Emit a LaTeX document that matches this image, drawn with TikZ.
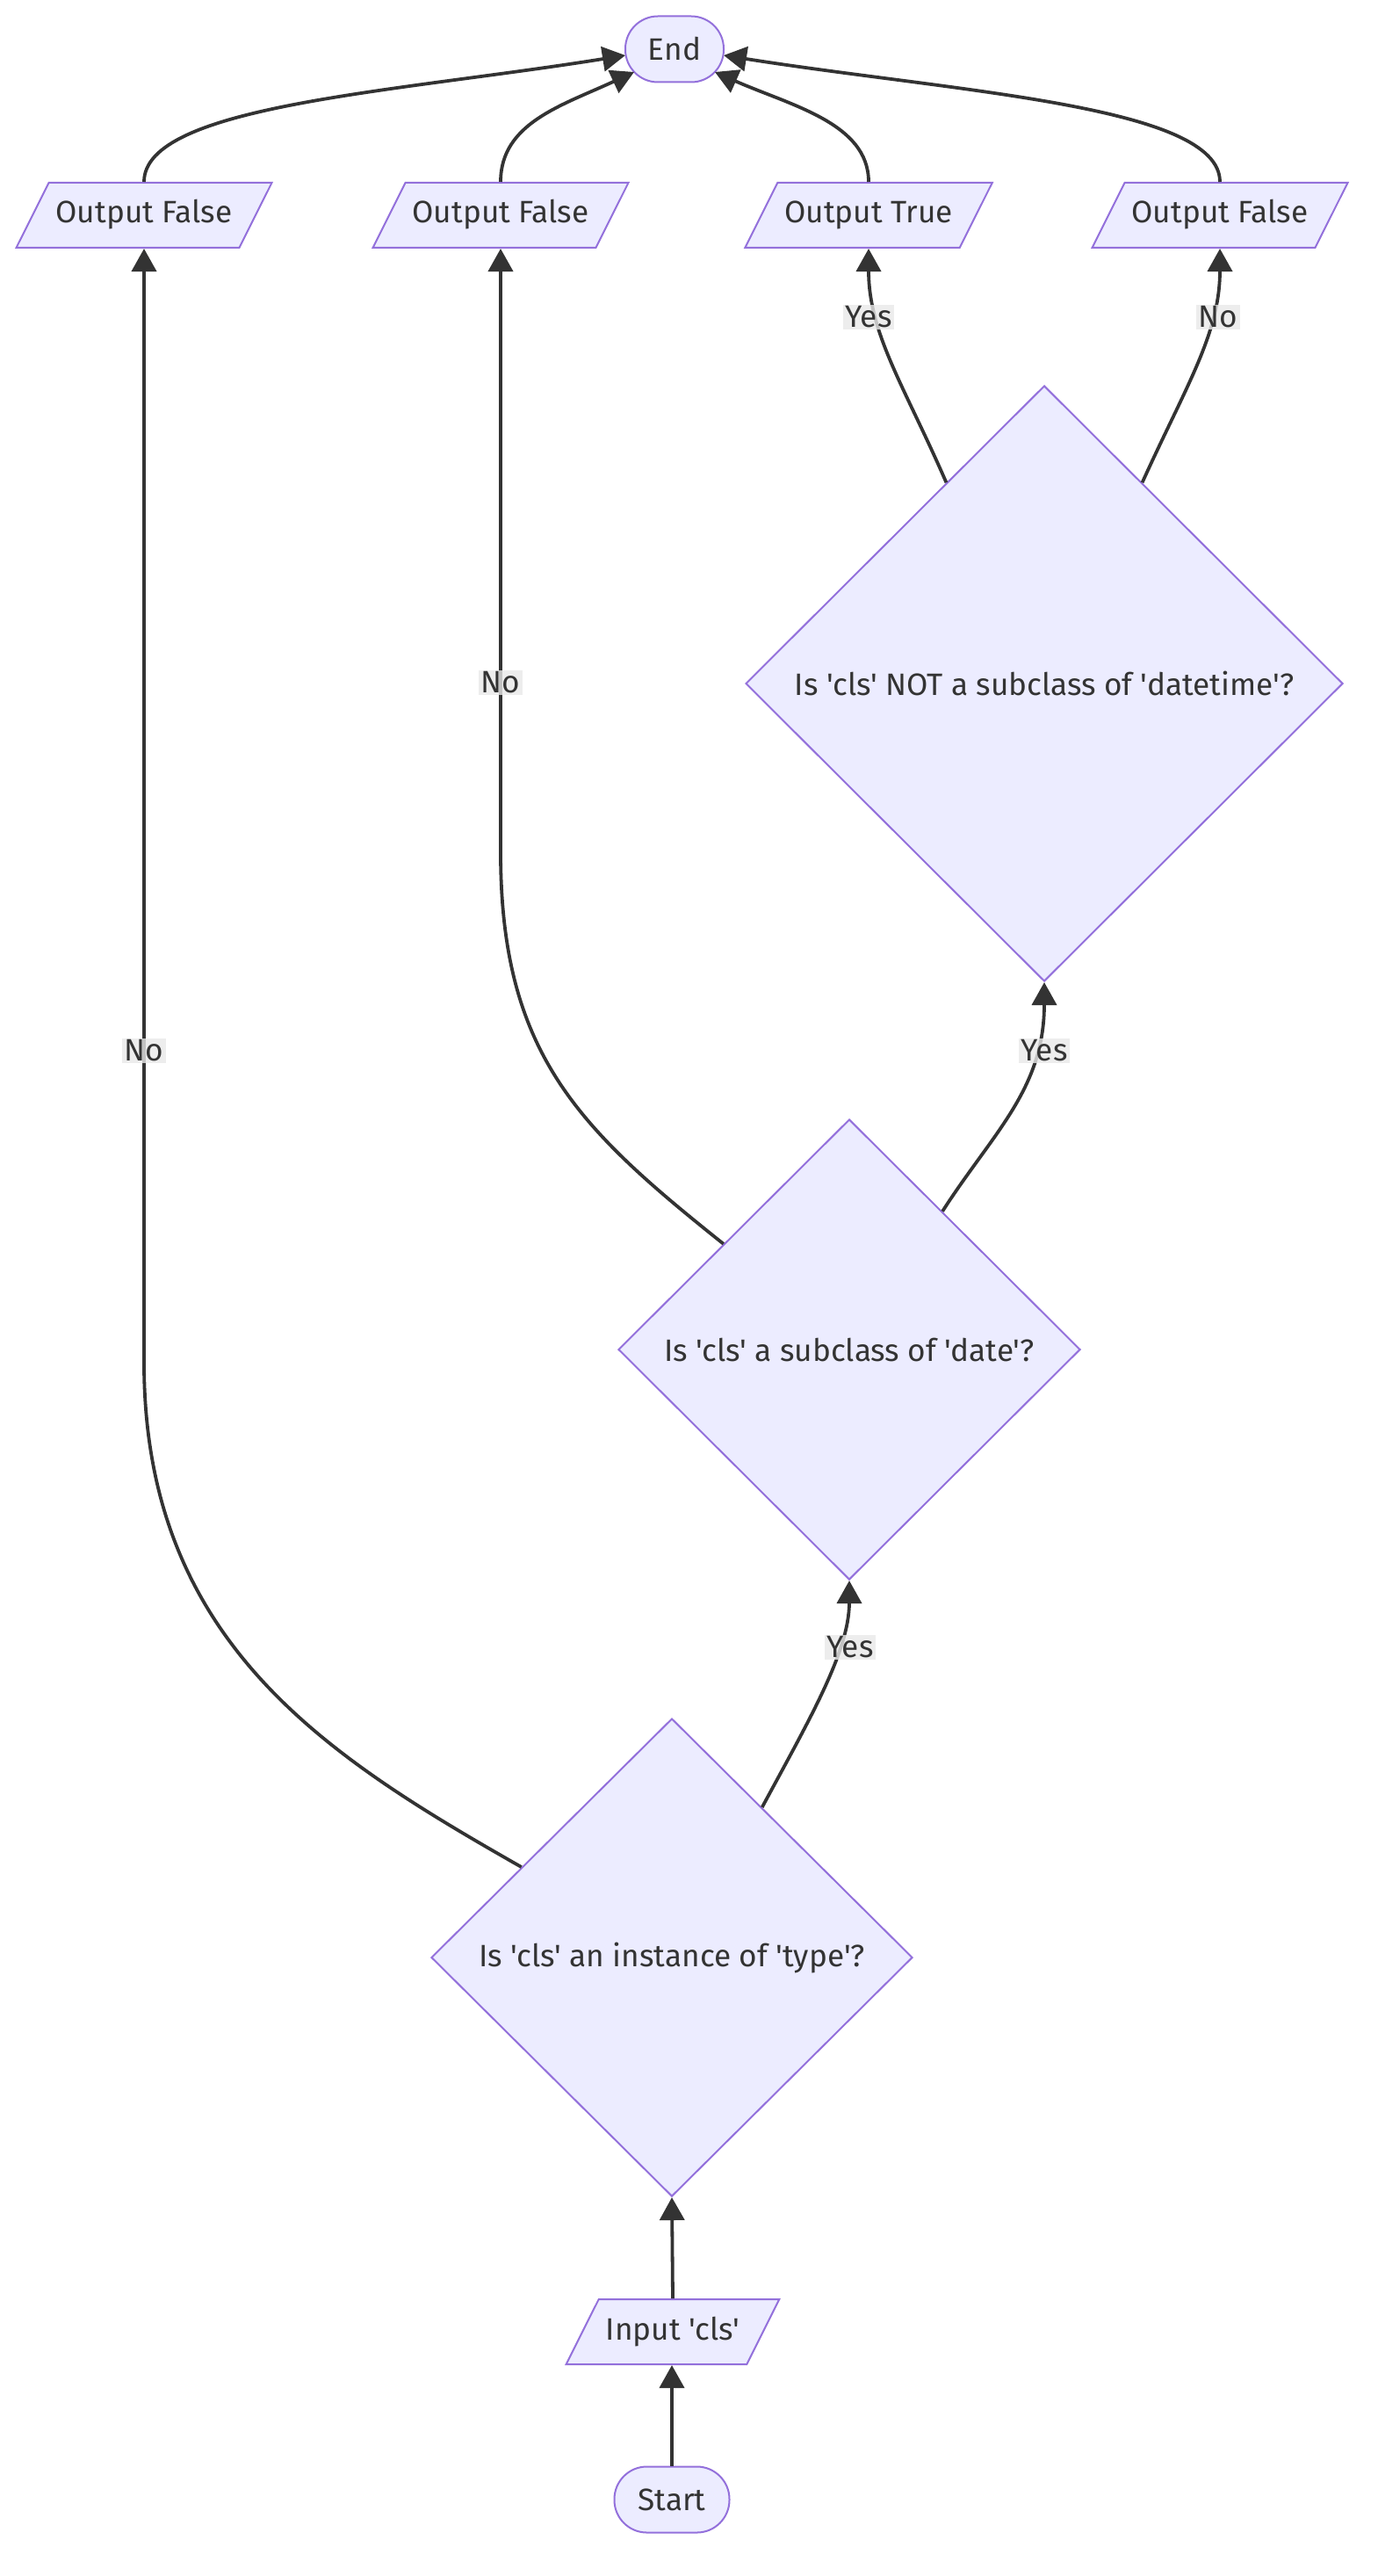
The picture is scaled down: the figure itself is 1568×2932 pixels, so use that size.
\documentclass[tikz,border=0pt]{standalone}
\usepackage{fontspec}
\setmainfont{Fira Sans}[Ligatures=TeXOff]
\usetikzlibrary{shapes.geometric,arrows.meta,calc}
\definecolor{nfill}{HTML}{ECECFF}
\definecolor{nline}{HTML}{9370DB}
\definecolor{eline}{HTML}{333333}
\definecolor{lblbg}{HTML}{E8E8E8}
\begin{document}
\begin{tikzpicture}[x=0.5pt,y=-0.5pt, font=\fontsize{17.6}{20}\selectfont, text=eline,
 term/.style={rectangle, rounded corners=18.5pt, draw=nline, fill=nfill, line width=1pt, minimum height=37.5pt, inner sep=0pt},
 io/.style={trapezium, trapezium left angle=63.4, trapezium right angle=116.6, draw=nline, fill=nfill, line width=1pt, text height=12.5pt, text depth=3.5pt, inner ysep=10.5pt, inner xsep=4pt},
 dec/.style={diamond, draw=nline, fill=nfill, line width=1pt, inner sep=0pt},
 conn/.style={draw=eline, line width=1.9pt, -{Triangle[length=13pt,width=14pt]}},
 lbl/.style={fill=lblbg, fill opacity=0.8, text opacity=1, inner xsep=1.5pt, inner ysep=1pt}]
\useasboundingbox (0,0) rectangle (1568,2932);
% nodes
\node[term, minimum width=56pt] (end) at (768,56) {End};
\node[io] (of1) at (164,245) {Output False};
\node[io] (of2) at (570,245) {Output False};
\node[io] (ot) at (989,245) {Output True};
\node[io] (of3) at (1389,245) {Output False};
\node[dec, minimum width=340pt, minimum height=339pt] (d3) at (1189,778) {Is 'cls' NOT a subclass of 'datetime'?};
\node[dec, minimum width=263pt, minimum height=262pt] (d2) at (967,1536) {Is 'cls' a subclass of 'date'?};
\node[dec, minimum width=274pt, minimum height=272pt] (d1) at (765,2228) {Is 'cls' an instance of 'type'?};
\node[io] (input) at (766,2654) {Input 'cls'};
\node[term, minimum width=65.5pt] (start) at (765,2845) {Start};
% edges
\draw[conn] (start.north) -- (start.north |- input.south);
\draw[conn] (input.center |- input.north) -- (d1.south);
\draw[conn] (d1.59) .. controls (920,1960) and (967,1880) .. (d2.south);
\draw[conn] (d1.149) .. controls (374,2000) and (164,1870) .. (164,1551) -- (of1.center |- of1.south);
\draw[conn] (d2.56) .. controls (1130,1290) and (1189,1240) .. (d3.south);
\draw[conn] (d2.140) .. controls (660,1285) and (570,1200) .. (570,970) -- (of2.center |- of2.south);
\draw[conn] (d3.116) .. controls (1030,440) and (989,380) .. (ot.center |- ot.south);
\draw[conn] (d3.64) .. controls (1350,440) and (1389,380) .. (of3.center |- of3.south);
\draw[conn] (of1.center |- of1.north) .. controls (164,120) and (450,105) .. ($(end.center)+(-56,7)$);
\draw[conn] (of2.center |- of2.north) .. controls (570,140) and (640,120) .. ($(end.center)+(-46,26)$);
\draw[conn] (ot.center |- ot.north) .. controls (989,140) and (900,120) .. ($(end.center)+(46,26)$);
\draw[conn] (of3.center |- of3.north) .. controls (1389,120) and (1090,105) .. ($(end.center)+(56,7)$);
% labels
\node[lbl] (l1) at (968,1875) {Yes};
\node[lbl] (l2) at (164,1196) {No};
\node[lbl] (l3) at (1189,1196) {Yes};
\node[lbl] (l4) at (570,777) {No};
\node[lbl] (l5) at (989,361) {Yes};
\node[lbl] (l6) at (1387,361) {No};
\end{tikzpicture}
\end{document}
